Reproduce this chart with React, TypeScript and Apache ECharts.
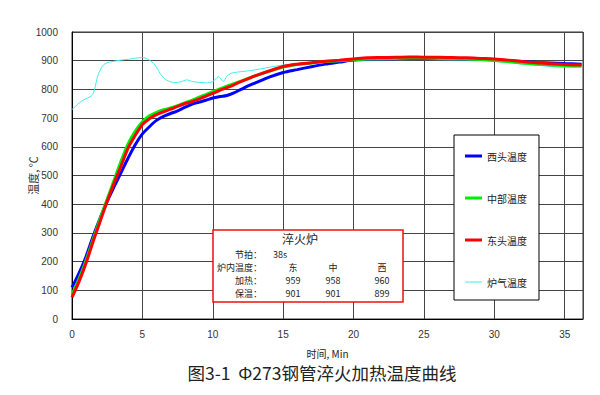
import React, { useEffect, useRef } from "react";
import * as echarts from "echarts";

// ---- data ----
const tempTimes = [0, 0.5, 1, 1.5, 2, 2.5, 3, 3.5, 4, 4.5, 5, 5.5, 6, 6.5, 7, 7.5, 8, 8.5, 9, 9.5, 10, 10.5, 11, 11.5, 12, 12.5, 13, 13.5, 14, 15, 16, 17, 18, 19, 20, 21, 22, 23, 24, 25, 26, 27, 28, 29, 30, 31, 32, 33, 34, 35, 36.2];
const westTemp = [110, 160, 218, 288, 352, 410, 462, 512, 562, 608, 645, 670, 692, 706, 716, 725, 737, 748, 755, 762, 770, 775, 779, 788, 800, 812, 822, 832, 843, 859, 869, 879, 888, 895, 902, 905, 906, 907, 908, 908, 908, 907, 906, 905, 903, 900, 897, 894, 892, 890, 888];
const midTemp = [85, 140, 205, 278, 350, 418, 485, 552, 612, 655, 687, 708, 720, 729, 735, 743, 753, 762, 772, 782, 792, 802, 811, 820, 829, 838, 847, 855, 863, 878, 887, 892, 897, 900, 903, 906, 907, 908, 909, 909, 908, 907, 906, 904, 901, 897, 892, 888, 885, 883, 882];
const eastTemp = [75, 130, 195, 270, 340, 410, 475, 535, 597, 640, 678, 698, 712, 722, 731, 741, 750, 757, 766, 776, 786, 797, 806, 816, 827, 837, 847, 856, 864, 880, 888, 893, 898, 902, 906, 910, 911, 912, 913, 912, 912, 911, 910, 908, 906, 902, 897, 893, 889, 887, 885];
const gasTimes = [0, 0.4, 0.8, 1.4, 1.6, 1.85, 2.3, 3.2, 4, 5, 5.4, 5.9, 6.25, 6.7, 7.3, 7.7, 8.15, 8.6, 9.5, 10, 10.4, 10.75, 11.0, 11.3, 11.7, 12.4, 13, 14, 15, 16.4, 17.6, 20, 22, 25, 27, 29, 30, 31, 32, 33, 34, 35, 36.2];
const gasTemp = [730, 748, 763, 778, 800, 850, 888, 900, 905, 911, 905, 885, 856, 833, 824, 826, 833, 827, 823, 827, 844, 828, 846, 856, 860, 864, 868, 877, 885, 890, 896, 901, 903, 904, 903, 901, 898, 893, 888, 884, 880, 877, 876];

const seriesNames = ["西头温度", "中部温度", "东头温度", "炉气温度"];
const seriesColors = ["#0000ff", "#00ee00", "#ff0000", "#40eeee"];

const boxTitle = "淬火炉";
const beatLabel = "节拍：";
const beatValue = "38s";
const zoneLabel = "炉内温度：";
const zones = ["东", "中", "西"];
const heatLabel = "加热：";
const heatVals = [959, 958, 960];
const holdLabel = "保温：";
const holdVals = [901, 901, 899];

const chartTitle = "图3-1  Φ273钢管淬火加热温度曲线";
const xName = "时间, Min";
const yName = "温度, ℃";

const CJK = "'Noto Sans CJK SC', 'Liberation Sans', sans-serif";
const NUM = "'Liberation Sans', 'Noto Sans CJK SC', sans-serif";

const THICK_ICON = "path://M0,0L17,0L17,3L0,3Z";
const THIN_ICON = "path://M0,0L0.01,0L0.01,0.01ZM0,1L17,1L17,2L0,2ZM17,3L16.99,3L16.99,2.99Z";

function pairs(ts: number[], vs: number[]) {
  return ts.map((t, i) => [t, vs[i]]);
}

export default function App() {
  const ref = useRef<HTMLDivElement>(null);
  useEffect(() => {
    if (!ref.current) return;
    const chart = echarts.init(ref.current, undefined, { renderer: "svg" });

    const colX = [293, 333, 382];
    const txt = (text: string, x: number, y: number, align: string, fontSize = 9) => ({
      type: "text",
      z: 101,
      style: { text, x, y, align, verticalAlign: "middle", fontSize, lineHeight: fontSize + 1, fontFamily: CJK, fill: "#222" },
    });
    const rowText = (label: string, y: number, vals: (string | number)[]) => [
      txt(label, 262, y, "right"),
      ...vals.map((v, i) => txt(String(v), colX[i], y, "center")),
    ];

    const lineSeries = (name: string, color: string, data: number[][], width: number, z: number) => ({
      name,
      type: "line",
      data,
      showSymbol: false,
      symbol: "none",
      smooth: 0.3,
      z,
      lineStyle: { color, width },
      itemStyle: { color },
    });

    chart.setOption({
      animation: false,
      backgroundColor: "#fff",
      title: {
        text: chartTitle,
        left: 317,
        top: 357,
        textAlign: "center",
        textStyle: { fontSize: 17.5, lineHeight: 20, fontWeight: "normal", fontFamily: CJK, color: "#222" },
      },
      grid: {
        left: 72,
        right: 17,
        top: 32,
        bottom: 76,
        show: true,
        borderColor: "#333",
        borderWidth: 1,
        outerBoundsMode: "none",
      },
      legend: {
        orient: "vertical",
        left: 454,
        top: 135,
        padding: [16, 12, 13, 11],
        itemGap: 32,
        itemWidth: 17,
        itemHeight: 3,
        backgroundColor: "#fff",
        borderColor: "#000",
        borderWidth: 1,
        textStyle: { fontSize: 10, lineHeight: 10, fontFamily: CJK, color: "#222" },
        data: seriesNames.map((n, i) => ({
          name: n,
          icon: i === 3 ? THIN_ICON : THICK_ICON,
          itemStyle: { color: seriesColors[i], borderWidth: 0 },
        })),
      },
      xAxis: {
        type: "value",
        min: 0,
        max: 36.3,
        interval: 5,
        name: xName,
        nameLocation: "middle",
        nameGap: 29,
        nameTextStyle: { fontSize: 10, fontFamily: CJK, color: "#222" },
        axisLine: { show: true, lineStyle: { color: "#000", width: 1 } },
        axisTick: { show: false },
        axisLabel: { showMaxLabel: false, fontSize: 10, fontFamily: NUM, color: "#333", margin: 10 },
        splitLine: { show: true, lineStyle: { color: "#444", width: 1 } },
      },
      yAxis: {
        type: "value",
        min: 0,
        max: 1000,
        interval: 100,
        name: yName,
        nameLocation: "middle",
        nameGap: 34,
        nameRotate: 90,
        nameMoveOverlap: false,
        nameTextStyle: { fontSize: 11, fontFamily: CJK, color: "#333" },
        axisLine: { show: true, lineStyle: { color: "#000", width: 1 } },
        axisTick: { show: false },
        axisLabel: { fontSize: 10, fontFamily: NUM, color: "#333", margin: 14, formatter: (v: number) => String(v) },
        splitLine: { show: true, lineStyle: { color: "#444", width: 1 } },
      },
      series: [
        lineSeries(seriesNames[3], seriesColors[3], pairs(gasTimes, gasTemp), 1, 2),
        lineSeries(seriesNames[0], seriesColors[0], pairs(tempTimes, westTemp), 3, 3),
        lineSeries(seriesNames[1], seriesColors[1], pairs(tempTimes, midTemp), 3, 4),
        lineSeries(seriesNames[2], seriesColors[2], pairs(tempTimes, eastTemp), 3, 5),
      ],
      graphic: [
        { type: "rect", z: 100, shape: { x: 213, y: 230, width: 190, height: 72 }, style: { fill: "#fff", stroke: "#ee1111", lineWidth: 1.5 } },
        txt(boxTitle, 300, 238.8, "center", 12),
        txt(beatLabel, 262, 254, "right"),
        txt(beatValue, 273, 254, "left"),
        ...rowText(zoneLabel, 267, zones),
        ...rowText(heatLabel, 280, heatVals),
        ...rowText(holdLabel, 293, holdVals),
      ],
    });
    return () => chart.dispose();
  }, []);
  return <div ref={ref} style={{ position: "fixed", left: 0, top: 0, width: 600, height: 395 }} />;
}
